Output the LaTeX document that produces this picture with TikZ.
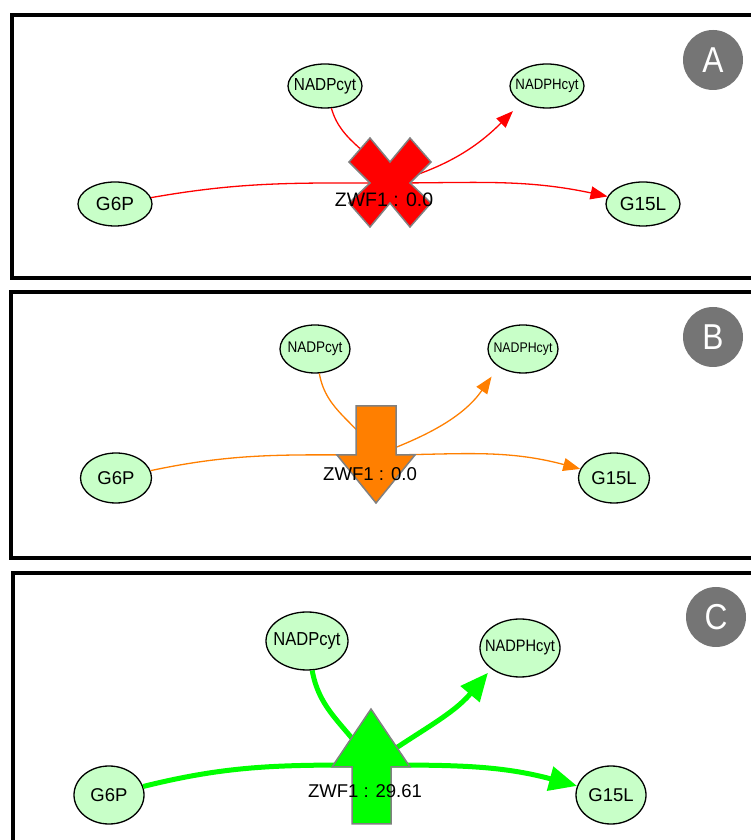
\documentclass[tikz,border=0pt]{standalone}
\usepackage{fontspec}
\setmainfont{Liberation Sans}
\newfontfamily\nrw[FakeStretch=0.88]{Liberation Sans}
\usetikzlibrary{shapes.geometric,arrows.meta}
\newcommand{\fsz}[1]{\fontsize{#1}{#1}\selectfont}
\definecolor{metfill}{RGB}{200,255,200}
\definecolor{tagfill}{RGB}{117,117,117}
\definecolor{flxorange}{RGB}{255,127,0}
\definecolor{flxgreen}{RGB}{0,255,0}
\begin{document}
\begin{tikzpicture}[x=1pt,y=1pt,
	met/.style={ellipse,draw,line width=1.3pt,fill=metfill,inner xsep=-20pt,inner ysep=0pt},
	tag/.style={circle,fill=tagfill,minimum size=60pt,inner sep=0pt,text=white,font=\nrw\fsz{36}},
	rxn/.style={font=\fsz{19}},
	frm/.style={line width=4.5pt},
	glyph/.style={draw=gray,line width=1.5pt},
	flx/.style={line width=1.3pt},
	hd/.style={-{Triangle[length=17pt,width=13pt]}},
	fat/.style={line width=5pt},
	bighd/.style={-{Triangle[length=28pt,width=24pt]}}]
	\useasboundingbox (0,0) rectangle (750,840);
	% panel A
	\draw[frm] (800,562) -| (12,825) -- (800,825);
	\node[tag] (tA) at (713,780) {A};
	\node[met,minimum width=74pt,minimum height=44pt,font=\nrw\fsz{17.4}] (nA) at (325,754) {NADPcyt};
	\node[met,minimum width=74pt,minimum height=44pt,font=\nrw\fsz{15}] (hA) at (547,754) {NADPHcyt};
	\node[met,minimum width=74pt,minimum height=44pt,font=\fsz{19}] (gA) at (115,636) {G6P};
	\node[met,minimum width=74pt,minimum height=44pt,font=\fsz{19}] (lA) at (643,636) {G15L};
	\coordinate (rA) at (390,657);
	\draw[flx,red] (gA) to[out=10,in=180] (rA);
	\draw[flx,red,hd] (rA) to[out=0,in=168] (lA);
	\draw[flx,red] (nA) to[out=-74,in=118] (rA);
	\draw[flx,red,hd,shorten >=12pt] (rA) to[out=15,in=-135] (hA.-147);
	\draw[glyph,fill=red,shift={(rA)}] (-20,45) -- (0,21) -- (20,45) -- (41,21) -- (20,0) -- (41,-20) -- (20,-44) -- (0,-20) -- (-20,-44) -- (-41,-20) -- (-20,0) -- (-41,21) -- cycle;
	\node[rxn,font=\fsz{19.5}] (zA) at (384,640) {ZWF1 : 0.0};
	% panel B
	\draw[frm] (800,282) -| (11,548) -- (800,548);
	\node[tag] (tB) at (713,503) {B};
	\node[met,minimum width=70pt,minimum height=48pt,font=\nrw\fsz{15.4}] (nB) at (315,491) {NADPcyt};
	\node[met,minimum width=70pt,minimum height=48pt,font=\nrw\fsz{14}] (hB) at (523,491) {NADPHcyt};
	\node[met,minimum width=71pt,minimum height=50pt,font=\fsz{18.5}] (gB) at (116,362) {G6P};
	\node[met,minimum width=71pt,minimum height=50pt,font=\fsz{18.5}] (lB) at (614,362) {G15L};
	\coordinate (rB) at (376,385);
	\draw[flx,flxorange] (gB) to[out=12,in=180] (rB);
	\draw[flx,flxorange,hd] (rB) to[out=0,in=165] (lB);
	\draw[flx,flxorange] (nB) to[out=-80,in=120] (rB);
	\draw[flx,flxorange,hd,shorten >=12pt] (rB) to[out=20,in=-125] (hB.-144);
	\draw[glyph,fill=flxorange,shift={(rB)}] (-20,49) -- (20,49) -- (20,0) -- (39,0) -- (0,-48) -- (-39,0) -- (-20,0) -- cycle;
	\node[rxn,font=\fsz{18.6}] (zB) at (370,366) {ZWF1 : 0.0};
	% panel C
	\draw[frm] (800,267) -| (13,-30);
	\node[tag] (tC) at (716,223) {C};
	\node[met,minimum width=82pt,minimum height=58pt,font=\nrw\fsz{18.8}] (nC) at (307,199) {NADPcyt};
	\node[met,minimum width=80pt,minimum height=58pt,font=\nrw\fsz{16.6}] (hC) at (520,192) {NADPHcyt};
	\node[met,minimum width=70pt,minimum height=58pt,font=\fsz{18.5}] (gC) at (109,45) {G6P};
	\node[met,minimum width=70pt,minimum height=58pt,font=\fsz{18.5}] (lC) at (611,45) {G15L};
	\coordinate (rC) at (371,75);
	\draw[fat,flxgreen] (gC) to[out=14,in=180] (rC);
	\draw[fat,flxgreen,bighd] (rC) to[out=0,in=165] (lC);
	\draw[fat,flxgreen] (nC) to[out=-80,in=120] (rC);
	\draw[fat,flxgreen,bighd,shorten >=5pt] (rC) to[out=35,in=-130] (hC.-144);
	\draw[glyph,fill=flxgreen,shift={(rC)}] (0,56) -- (39,-2) -- (20,-2) -- (20,-59) -- (-19,-59) -- (-19,-2) -- (-39,-2) -- cycle;
	\node[rxn,font=\fsz{18.5}] (zC) at (365,49) {ZWF1 : 29.61};
\end{tikzpicture}
\end{document}
